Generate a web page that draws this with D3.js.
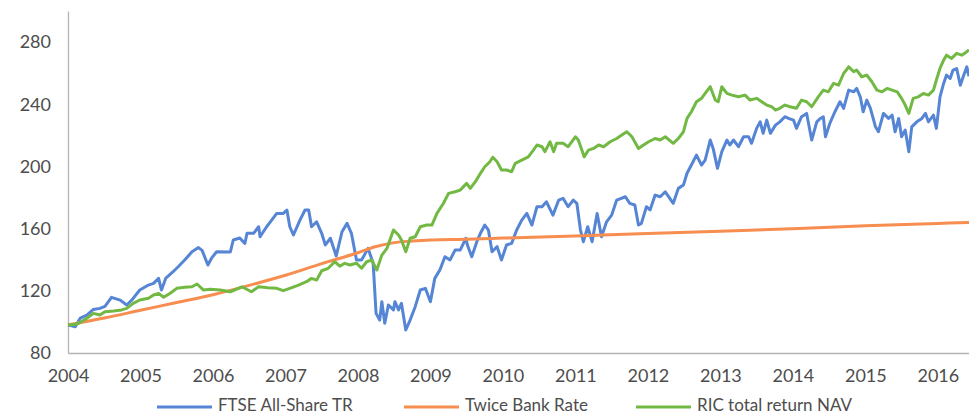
<!DOCTYPE html>
<html>
<head>
<meta charset="utf-8">
<script src="https://cdn.jsdelivr.net/npm/d3@7"></script>
<style>
  body { margin: 0; background: #fff; }
  text { font-family: Lato, "Open Sans", sans-serif; fill: #4d4d4d; }
</style>
</head>
<body>
<div id="vis"></div>
<script>
// year ticks on the x axis and value ticks on the y axis
var yearTicks = [2004, 2005, 2006, 2007, 2008, 2009, 2010, 2011, 2012, 2013, 2014, 2015, 2016];
var valueTicks = [80, 120, 160, 200, 240, 280];
var seriesNames = ["FTSE All-Share TR", "Twice Bank Rate", "RIC total return NAV"];

// [fractional year, value]
var ftse = [
  [2004.0, 98], [2004.05, 97.5], [2004.1, 96.9], [2004.17, 102.5], [2004.26, 104.4], [2004.35, 108],
  [2004.44, 108.7], [2004.51, 110], [2004.6, 115.8], [2004.72, 114], [2004.81, 110.9], [2004.88, 114],
  [2004.99, 120.5], [2005.11, 123.7], [2005.18, 124.8], [2005.25, 128], [2005.29, 120.5], [2005.35, 128.2],
  [2005.45, 132.3], [2005.52, 135.5], [2005.61, 139.8], [2005.71, 145.1], [2005.8, 147.8], [2005.85, 146],
  [2005.93, 136.6], [2005.98, 141], [2006.05, 145.1], [2006.24, 145], [2006.28, 152.7], [2006.37, 154],
  [2006.44, 150.5], [2006.47, 157], [2006.56, 157], [2006.63, 161.2], [2006.65, 154.8], [2006.74, 161.2],
  [2006.81, 165.5], [2006.88, 169.8], [2006.97, 169.8], [2007.02, 172], [2007.06, 161.2], [2007.11, 155.9],
  [2007.2, 165.5], [2007.27, 172], [2007.32, 172], [2007.36, 161.2], [2007.43, 164.4], [2007.5, 157],
  [2007.55, 149.5], [2007.62, 153.8], [2007.7, 142.4], [2007.78, 158], [2007.85, 163.4], [2007.91, 157],
  [2007.98, 139.8], [2008.05, 139.8], [2008.14, 147.3], [2008.21, 137.7], [2008.25, 105.5], [2008.3, 101.2],
  [2008.33, 113], [2008.37, 99.1], [2008.42, 110.9], [2008.49, 107.7], [2008.51, 113], [2008.56, 107.7],
  [2008.6, 112], [2008.66, 94.8], [2008.72, 101.2], [2008.79, 109.8], [2008.86, 120.5], [2008.93, 121.6],
  [2009.0, 113], [2009.06, 128], [2009.13, 133.4], [2009.2, 141.9], [2009.27, 139.8], [2009.34, 146.2],
  [2009.41, 146.2], [2009.49, 153.8], [2009.51, 149.5], [2009.57, 141.9], [2009.64, 151.6], [2009.69, 157],
  [2009.75, 162.3], [2009.8, 159.1], [2009.85, 145.1], [2009.92, 148.4], [2009.98, 139.8], [2010.05, 149.5],
  [2010.12, 150.5], [2010.19, 159.1], [2010.26, 165.5], [2010.33, 169.8], [2010.4, 162.3], [2010.47, 174.1],
  [2010.54, 174.1], [2010.6, 177.3], [2010.69, 168.7], [2010.77, 178.4], [2010.83, 179.5], [2010.9, 174.1],
  [2010.97, 178.4], [2011.02, 176.3], [2011.07, 159.1], [2011.11, 151.6], [2011.17, 161.2], [2011.23, 151.6],
  [2011.3, 169.8], [2011.36, 154.8], [2011.43, 164.4], [2011.5, 168.7], [2011.57, 178.4], [2011.69, 180.5],
  [2011.75, 176.3], [2011.82, 175.2], [2011.87, 162.3], [2011.91, 163.4], [2011.98, 174.1], [2012.03, 172],
  [2012.1, 181.6], [2012.17, 180.5], [2012.24, 183.7], [2012.35, 176.3], [2012.42, 185.9], [2012.49, 188],
  [2012.54, 195.6], [2012.6, 200.9], [2012.67, 207.3], [2012.74, 200.9], [2012.79, 204.1], [2012.86, 217],
  [2012.9, 211.6], [2012.96, 198.8], [2013.02, 209.5], [2013.09, 217], [2013.13, 213.8], [2013.18, 217],
  [2013.25, 212.7], [2013.32, 219.1], [2013.39, 219.1], [2013.43, 214.9], [2013.5, 224.5], [2013.55, 228.7],
  [2013.59, 221.3], [2013.64, 229.8], [2013.69, 221.3], [2013.76, 226.6], [2013.82, 228.7], [2013.89, 232],
  [2013.94, 230.9], [2014.01, 229.8], [2014.05, 224.5], [2014.12, 232], [2014.19, 234.1], [2014.26, 217],
  [2014.33, 228.7], [2014.38, 230.9], [2014.42, 232], [2014.45, 219.1], [2014.51, 227.7], [2014.58, 235.2],
  [2014.65, 241.6], [2014.7, 237.4], [2014.77, 249.1], [2014.84, 248], [2014.88, 250.2], [2014.93, 244.8],
  [2014.97, 235.2], [2015.02, 242.7], [2015.07, 237.4], [2015.14, 225.5], [2015.18, 222.3], [2015.25, 234.1],
  [2015.32, 230.9], [2015.37, 233], [2015.41, 222.3], [2015.46, 230.9], [2015.5, 219.1], [2015.55, 223.4],
  [2015.6, 209.5], [2015.64, 225.5], [2015.71, 228.7], [2015.78, 230.9], [2015.83, 234.1], [2015.87, 228.7],
  [2015.94, 233], [2015.98, 224.5], [2016.03, 244.8], [2016.08, 253.4], [2016.12, 258.8], [2016.17, 256.6],
  [2016.21, 262], [2016.26, 263], [2016.31, 252.3], [2016.35, 257.7], [2016.4, 264.1], [2016.43, 258]
];

var bankRate = [
  [2004.0, 98], [2004.5, 102.5], [2005.0, 107.5], [2005.5, 112.5], [2006.0, 117.5], [2006.5, 123.5],
  [2007.0, 130], [2007.5, 137.5], [2008.0, 144.5], [2008.25, 148.5], [2008.5, 151], [2008.75, 152],
  [2009.0, 152.7], [2009.5, 153.2], [2010.0, 153.9], [2011.0, 155.3], [2012.0, 156.8], [2013.0, 158.3],
  [2014.0, 160], [2015.0, 161.8], [2016.0, 163.3], [2016.43, 164]
];

var ricNav = [
  [2004.0, 98], [2004.1, 98.5], [2004.15, 99.1], [2004.26, 102.3], [2004.35, 105.5], [2004.44, 104.4],
  [2004.51, 106.6], [2004.63, 107], [2004.74, 107.7], [2004.81, 108.7], [2004.9, 111.9], [2004.99, 114.1],
  [2005.11, 115.2], [2005.18, 117.3], [2005.25, 118.4], [2005.32, 115.8], [2005.41, 118.4], [2005.5, 121.6],
  [2005.61, 122.3], [2005.71, 122.6], [2005.78, 124.4], [2005.87, 120.5], [2005.96, 121], [2006.1, 120.5],
  [2006.24, 119.4], [2006.4, 122.6], [2006.53, 119.4], [2006.63, 122.6], [2006.76, 122], [2006.88, 121.6],
  [2006.97, 120.1], [2007.06, 121.6], [2007.18, 123.7], [2007.29, 125.9], [2007.36, 128], [2007.43, 126.9],
  [2007.5, 132.9], [2007.59, 134.5], [2007.68, 138.7], [2007.75, 135.9], [2007.82, 137.7], [2007.89, 136.6],
  [2007.98, 137.7], [2008.05, 134.5], [2008.12, 138.7], [2008.19, 139.8], [2008.26, 133.4], [2008.33, 143],
  [2008.4, 147.3], [2008.49, 159.1], [2008.56, 155.9], [2008.6, 152.7], [2008.66, 145.1], [2008.72, 153.8],
  [2008.79, 154.8], [2008.86, 161.2], [2008.95, 162.3], [2009.02, 162.3], [2009.09, 169.8], [2009.18, 176.3],
  [2009.25, 182.7], [2009.34, 183.7], [2009.41, 184.8], [2009.5, 189.1], [2009.55, 185.9], [2009.62, 190.2],
  [2009.69, 195.6], [2009.75, 199.8], [2009.82, 203], [2009.86, 205.9], [2009.92, 203], [2009.98, 197.7],
  [2010.05, 197.7], [2010.12, 196.6], [2010.17, 202], [2010.26, 204.1], [2010.35, 206.2], [2010.42, 210.5],
  [2010.47, 213.8], [2010.54, 212.7], [2010.58, 209.5], [2010.65, 215.9], [2010.7, 209.5], [2010.74, 214.9],
  [2010.83, 214.9], [2010.9, 212.7], [2011.0, 219.1], [2011.04, 217], [2011.09, 210.5], [2011.12, 206.2],
  [2011.18, 210.5], [2011.25, 211.6], [2011.32, 213.8], [2011.39, 212.7], [2011.48, 215.9], [2011.57, 218],
  [2011.64, 220.2], [2011.71, 222.3], [2011.78, 219.1], [2011.87, 211.6], [2011.94, 213.8], [2012.01, 215.9],
  [2012.1, 218], [2012.17, 217], [2012.24, 219.1], [2012.35, 214.9], [2012.42, 218], [2012.49, 222.3],
  [2012.54, 230.9], [2012.6, 235.2], [2012.67, 241.6], [2012.74, 243.8], [2012.79, 247], [2012.86, 251.3],
  [2012.93, 242.7], [2012.97, 241.6], [2013.02, 251.3], [2013.09, 247], [2013.16, 245.9], [2013.25, 244.8],
  [2013.34, 245.9], [2013.41, 242.7], [2013.5, 243.8], [2013.57, 241.6], [2013.64, 239.5], [2013.71, 238.4],
  [2013.76, 236.3], [2013.82, 237.4], [2013.89, 239.5], [2013.96, 238.4], [2014.05, 237.4], [2014.12, 242.7],
  [2014.19, 241.6], [2014.26, 238.4], [2014.35, 244.8], [2014.42, 249.1], [2014.49, 248], [2014.56, 253.4],
  [2014.63, 252.3], [2014.7, 259.8], [2014.77, 264.1], [2014.84, 260.9], [2014.88, 262], [2014.95, 257.7],
  [2015.02, 258.8], [2015.09, 254.5], [2015.16, 249.1], [2015.23, 248], [2015.3, 250.2], [2015.37, 249.1],
  [2015.44, 248], [2015.5, 243.8], [2015.55, 239.5], [2015.6, 234.1], [2015.66, 243.8], [2015.73, 244.8],
  [2015.8, 247], [2015.87, 245.9], [2015.94, 249.1], [2015.98, 255.6], [2016.03, 263.1], [2016.08, 268.4],
  [2016.12, 271.6], [2016.19, 269.5], [2016.26, 272.7], [2016.33, 271.6], [2016.4, 273.8], [2016.43, 275]
];

var colours = ["#5585d4", "#f78d4f", "#72b944"];

var width = 969, height = 416;
var svg = d3.select("#vis").append("svg").attr("width", width).attr("height", height);

var x = d3.scaleLinear().domain([2004, 2016.43]).range([68, 969]);
var y = d3.scaleLinear().domain([80, 300]).range([353, 11]);

// axes
var xAxis = svg.append("g").attr("transform", "translate(0,353)")
    .call(d3.axisBottom(x).tickValues(yearTicks).tickFormat(d3.format("d")).tickSize(0).tickPadding(16));
var yAxis = svg.append("g").attr("transform", "translate(68,0)")
    .call(d3.axisLeft(y).tickValues(valueTicks).tickSize(0).tickPadding(17));

[xAxis, yAxis].forEach(function(g){
    g.select(".domain").attr("stroke", "#b4b4b4").attr("stroke-width", 1.3);
    g.selectAll("text").style("font-size", "18px").attr("fill", "#4d4d4d");
});

var line = d3.line().x(function(d){ return x(d[0]); }).y(function(d){ return y(d[1]); });

var plot = svg.append("g");
[ftse, bankRate, ricNav].forEach(function(s, i){
    plot.append("path").datum(s)
        .attr("fill", "none")
        .attr("stroke", colours[i])
        .attr("stroke-width", 3)
        .attr("stroke-linejoin", "round")
        .attr("d", i == 1 ? line.curve(d3.curveMonotoneX)(s) : line.curve(d3.curveLinear)(s));
});

// legend
var legendX = [157, 404, 636];
var legend = svg.append("g");
seriesNames.forEach(function(name, i){
    legend.append("line")
        .attr("x1", legendX[i]).attr("x2", legendX[i] + 55)
        .attr("y1", 407).attr("y2", 407)
        .attr("stroke", colours[i]).attr("stroke-width", 3);
    legend.append("text")
        .attr("x", legendX[i] + 61).attr("y", 411)
        .style("font-size", "17px")
        .text(name);
});
</script>
</body>
</html>
